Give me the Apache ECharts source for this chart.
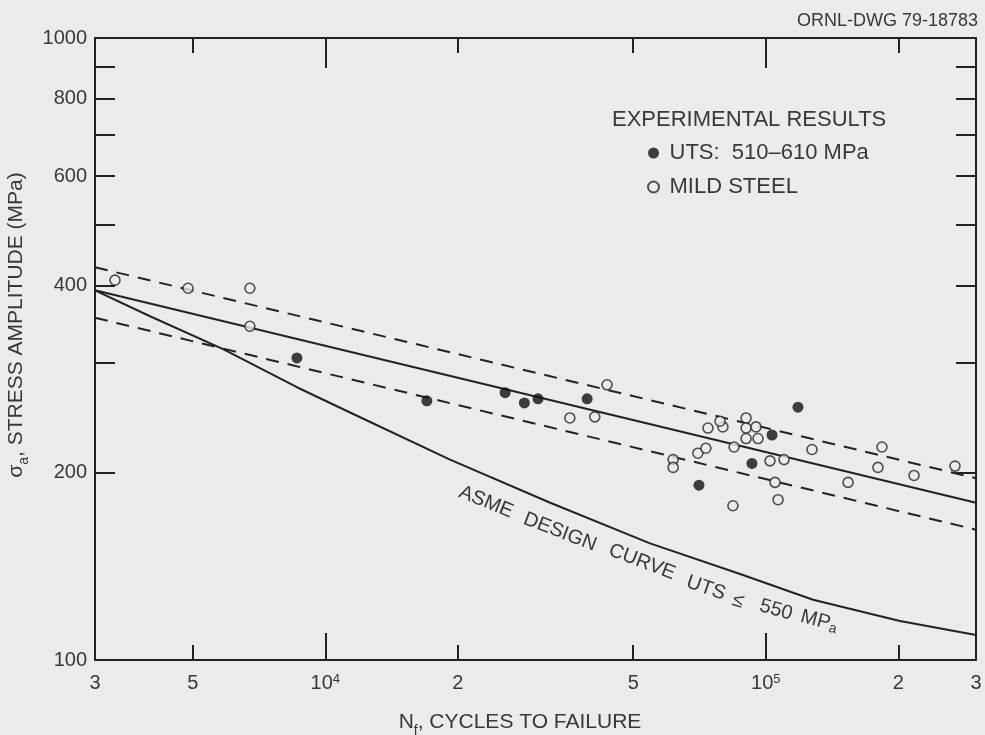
<!DOCTYPE html>
<html>
<head>
<meta charset="utf-8">
<title>Stress amplitude vs cycles to failure</title>
<script src="https://cdn.jsdelivr.net/npm/echarts@6.0.0/dist/echarts.min.js"></script>
<style>
  html, body { margin: 0; padding: 0; background: #ebebea; }
  #chart { width: 985px; height: 735px; }
</style>
</head>
<body>
<div id="chart"></div>
<script>
// values: N = cycles to failure, S = stress amplitude (MPa)
const mildSteelN = [3330, 4880, 6740, 6740, 43600, 35900, 40900, 73900, 79900, 78700, 90200, 90200,
  95000, 90200, 96000, 70100, 73100, 84700, 61600, 61600, 102200, 110000, 104900, 106600, 84200,
  127300, 153700, 183500, 179700, 217000, 268800];
const mildSteelS = [408, 396, 396, 344, 277, 245, 246, 236, 237, 242, 245, 236,
  237, 227, 227, 215, 219, 220, 210, 204, 209, 210, 193, 181, 177,
  218, 193, 220, 204, 198, 205];

const utsN = [8620, 17000, 25600, 28300, 30400, 39300, 118300, 103300, 93000, 70500];
const utsS = [306, 261, 269, 259, 263, 263, 255, 230, 207, 191];

const asmeN = [3000, 4000, 5860, 8620, 11380, 19190, 32400, 54600, 87400, 128000, 201600, 300000];
const asmeS = [393, 357, 316, 274.5, 250, 210, 179, 154, 137.5, 125, 115.5, 109.7];

// best fit and scatter band (straight on log-log)
const bandN = [3000, 300000];
const meanS = [393, 179];
const upperS = [428, 196];
const lowerS = [355, 162];

const xTickValues = [3000, 5000, 10000, 20000, 50000, 100000, 200000, 300000];
const xTickLabels = ['3', '5', '10^4', '2', '5', '10^5', '2', '3'];
const xShortTicks = [5000, 20000, 50000, 200000];
const xDecadeTicks = [10000, 100000];
const yLabelValues = [100, 200, 400, 600, 800, 1000];
const yTickValues = [200, 300, 400, 500, 600, 700, 800, 900];

const lineColor = '#222222';
const textColor = '#383838';
const bg = '#ebebea';
const font = '"Liberation Sans", Arial, sans-serif';

function pairs(xs, ys) {
  return xs.map((x, i) => [x, ys[i]]);
}

function xLabel(v) {
  const i = xTickValues.findIndex(t => Math.abs(v / t - 1) < 1e-6);
  const parts = (i < 0 ? '' : xTickLabels[i]).split('^');
  return parts.length > 1 ? '{b|' + parts[0] + '}{s|' + parts[1] + '}' : '{b|' + parts[0] + '}';
}

const subRich = {
  n: { fontSize: 21, fontFamily: font, color: textColor, verticalAlign: 'top', lineHeight: 24 },
  s: { fontSize: 14, fontFamily: font, color: textColor, verticalAlign: 'top', lineHeight: 14, padding: [12, 0, 0, 0] }
};

const xBase = { type: 'log', logBase: 10, min: 3000, max: 300000, splitLine: { show: false }, minorTick: { show: false } };
const yBase = { type: 'log', logBase: 10, min: 100, max: 1000, splitLine: { show: false }, minorTick: { show: false } };
const frame = { show: true, onZero: false, lineStyle: { color: lineColor, width: 2 } };
const tickStyle = { color: lineColor, width: 2 };

// words of the curve label, placed along the design curve
const asmeWords = [
  ['ASME', 486, 502, 22], ['DESIGN', 560, 532, 21], ['CURVE', 642, 562, 21],
  ['UTS', 706, 588, 19], ['\u2264', 738, 601, 17], ['550', 776, 610, 16], ['{n|MP}{s|a}', 819, 622, 15]
];

const chart = echarts.init(document.getElementById('chart'));

chart.setOption({
  backgroundColor: bg,
  animation: false,
  textStyle: { fontFamily: font },
  title: [
    { text: 'EXPERIMENTAL RESULTS', left: 607, top: 104,
      textStyle: { fontSize: 22, fontWeight: 'normal', color: textColor, fontFamily: font } },
    { text: 'ORNL-DWG 79-18783', right: 2, top: 7,
      textStyle: { fontSize: 18, fontWeight: 'normal', color: textColor, fontFamily: font } }
  ],
  legend: {
    data: ['UTS:  510\u2013610 MPa', 'MILD STEEL'],
    orient: 'vertical',
    left: 642,
    top: 137,
    itemWidth: 22,
    itemHeight: 11,
    itemGap: 12,
    selectedMode: false,
    textStyle: { fontSize: 22, color: textColor, fontFamily: font, lineHeight: 22 }
  },
  grid: [
    { left: 95, right: 9, top: 38, bottom: 75, outerBoundsMode: 'none' },
    { left: 95, right: 9, top: 38, bottom: 75, outerBoundsMode: 'none' }
  ],
  xAxis: [
    Object.assign({}, xBase, {
      gridIndex: 0, position: 'bottom',
      axisLine: frame,
      axisTick: { show: true, inside: true, length: 15, customValues: xShortTicks, lineStyle: tickStyle },
      axisLabel: {
        show: true, customValues: xTickValues, formatter: xLabel, margin: 13,
        rich: {
          b: { fontSize: 20, fontFamily: font, color: textColor, verticalAlign: 'bottom', lineHeight: 20, padding: [5, 0, 0, 0] },
          s: { fontSize: 13, fontFamily: font, color: textColor, verticalAlign: 'top', lineHeight: 13 }
        }
      },
      name: '{n|N}{s|f}{n|, CYCLES TO FAILURE}',
      nameLocation: 'middle',
      nameGap: 52,
      nameTextStyle: { padding: [0, 31, 0, 0], rich: subRich }
    }),
    Object.assign({}, xBase, {
      gridIndex: 0, position: 'top',
      axisLine: frame,
      axisTick: { show: true, inside: true, length: 15, customValues: xShortTicks, lineStyle: tickStyle },
      axisLabel: { show: false }
    }),
    Object.assign({}, xBase, {
      gridIndex: 1, position: 'bottom',
      axisLine: { show: false },
      axisTick: { show: true, inside: true, length: 27, customValues: xDecadeTicks, lineStyle: tickStyle },
      axisLabel: { show: false }
    }),
    Object.assign({}, xBase, {
      gridIndex: 1, position: 'top',
      axisLine: { show: false },
      axisTick: { show: true, inside: true, length: 30, customValues: xDecadeTicks, lineStyle: tickStyle },
      axisLabel: { show: false }
    })
  ],
  yAxis: [
    Object.assign({}, yBase, {
      gridIndex: 0, position: 'left',
      axisLine: frame,
      axisTick: { show: true, inside: true, length: 20, customValues: yTickValues, lineStyle: tickStyle },
      axisLabel: {
        show: true, customValues: yLabelValues, margin: 8,
        fontSize: 20, color: textColor, fontFamily: font,
        formatter: v => String(Math.round(v))
      },
      name: '{n|\u03c3}{s|a}{n|, STRESS AMPLITUDE (MPa)}',
      nameLocation: 'middle',
      nameRotate: 90,
      nameGap: 53,
      nameTextStyle: { padding: [0, 0, 0, 48], rich: subRich }
    }),
    Object.assign({}, yBase, {
      gridIndex: 0, position: 'right',
      axisLine: frame,
      axisTick: { show: true, inside: true, length: 20, customValues: yTickValues, lineStyle: tickStyle },
      axisLabel: { show: false }
    }),
    Object.assign({}, yBase, { gridIndex: 1, show: false })
  ],
  graphic: asmeWords.map(w => ({
    type: 'text',
    x: w[1],
    y: w[2],
    rotation: -w[3] * Math.PI / 180,
    silent: true,
    style: {
      text: w[0],
      font: '20px ' + font,
      fill: textColor,
      align: 'center',
      verticalAlign: 'middle',
      rich: {
        n: { fontSize: 20, fontFamily: font, fill: textColor, verticalAlign: 'top', lineHeight: 22 },
        s: { fontSize: 14, fontFamily: font, fill: textColor, verticalAlign: 'top', lineHeight: 14, padding: [7, 0, 0, 0] }
      }
    }
  })),
  series: [
    {
      name: 'ASME design curve', type: 'line', data: pairs(asmeN, asmeS),
      symbol: 'none', silent: true, z: 2,
      lineStyle: { color: lineColor, width: 2 }
    },
    {
      name: 'mean', type: 'line', data: pairs(bandN, meanS),
      symbol: 'none', silent: true, z: 2,
      lineStyle: { color: lineColor, width: 2 }
    },
    {
      name: 'upper', type: 'line', data: pairs(bandN, upperS),
      symbol: 'none', silent: true, z: 2,
      lineStyle: { color: lineColor, width: 2, type: [13, 9] }
    },
    {
      name: 'lower', type: 'line', data: pairs(bandN, lowerS),
      symbol: 'none', silent: true, z: 2,
      lineStyle: { color: lineColor, width: 2, type: [13, 9] }
    },
    {
      name: 'UTS:  510\u2013610 MPa', type: 'scatter', data: pairs(utsN, utsS),
      symbol: 'circle', symbolSize: 11, z: 4,
      itemStyle: { color: '#111111' }
    },
    {
      name: 'MILD STEEL', type: 'scatter', data: pairs(mildSteelN, mildSteelS),
      symbol: 'circle', symbolSize: 10, z: 4,
      itemStyle: { color: bg, borderColor: '#262626', borderWidth: 1.6 }
    }
  ]
});
</script>
</body>
</html>
